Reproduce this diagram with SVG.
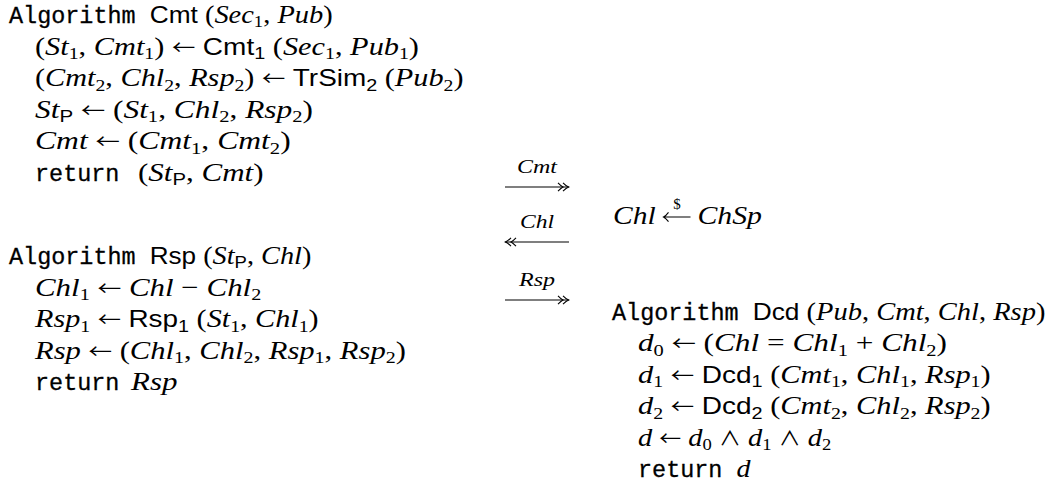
<svg xmlns="http://www.w3.org/2000/svg" width="1052" height="486" viewBox="0 0 1052 486">
  <style>
    .m { font-family: "Liberation Serif", "DejaVu Serif", serif; font-size: 26px; fill: #000; }
    .i { font-style: italic; }
    .sf { font-family: "Liberation Sans", "DejaVu Sans", sans-serif; font-size: 24px; font-style: normal; }
    .sub { font-size: 17px; }
    .ar { font-family: "Noto Sans CJK JP", "DejaVu Sans", sans-serif; font-size: 20px; font-style: normal; }
    .tt { font-family: "Liberation Mono", "DejaVu Sans Mono", monospace; font-size: 24px; fill: #000; stroke: #000; stroke-width: 0.3px; }
    .lbl { font-family: "Liberation Serif", "DejaVu Serif", serif; font-size: 19px; font-style: italic; fill: #000; }
    .dollar { font-family: "Liberation Serif", "DejaVu Serif", serif; font-size: 15px; fill: #000; }
    .wire { stroke: #000; stroke-width: 1.1; fill: none; }
  </style>
  <defs>
    <!-- two-headed arrow tip (twoheadrightarrow) -->
    <marker id="twohead" markerWidth="14" markerHeight="12" refX="12" refY="6" orient="auto" markerUnits="userSpaceOnUse">
      <path d="M1,1.8 Q4.2,5.1 6,6 Q4.2,6.9 1,10.2 M6,1.8 Q9.2,5.1 11.6,6 Q9.2,6.9 6,10.2" fill="none" stroke="#000" stroke-width="1.1"/>
    </marker>
  </defs>

  <!-- prover: commitment algorithm -->
  <g id="alg-cmt">
    <text class="tt" x="9" y="23" textLength="126.6" lengthAdjust="spacingAndGlyphs">Algorithm</text>
    <text class="m" x="149.7" y="23" textLength="183" lengthAdjust="spacingAndGlyphs"><tspan class="sf">Cmt</tspan> (<tspan class="i">Sec</tspan><tspan class="sub" dy="4.3">1</tspan><tspan dy="-4.3">, </tspan><tspan class="i">Pub</tspan>)</text>
    <text class="m" x="35" y="54.6" textLength="384" lengthAdjust="spacingAndGlyphs">(<tspan class="i">St</tspan><tspan class="sub" dy="4.3">1</tspan><tspan dy="-4.3">, </tspan><tspan class="i">Cmt</tspan><tspan class="sub" dy="4.3">1</tspan><tspan dy="-4.3">) </tspan><tspan class="ar">←</tspan> <tspan class="sf">Cmt</tspan><tspan class="sf sub" dy="4.3">1</tspan><tspan dy="-4.3"> (</tspan><tspan class="i">Sec</tspan><tspan class="sub" dy="4.3">1</tspan><tspan dy="-4.3">, </tspan><tspan class="i">Pub</tspan><tspan class="sub" dy="4.3">1</tspan><tspan dy="-4.3">)</tspan></text>
    <text class="m" x="35" y="86.2" textLength="428.5" lengthAdjust="spacingAndGlyphs">(<tspan class="i">Cmt</tspan><tspan class="sub" dy="4.3">2</tspan><tspan dy="-4.3">, </tspan><tspan class="i">Chl</tspan><tspan class="sub" dy="4.3">2</tspan><tspan dy="-4.3">, </tspan><tspan class="i">Rsp</tspan><tspan class="sub" dy="4.3">2</tspan><tspan dy="-4.3">) </tspan><tspan class="ar">←</tspan> <tspan class="sf">TrSim</tspan><tspan class="sf sub" dy="4.3">2</tspan><tspan dy="-4.3"> (</tspan><tspan class="i">Pub</tspan><tspan class="sub" dy="4.3">2</tspan><tspan dy="-4.3">)</tspan></text>
    <text class="m" x="35" y="117.8" textLength="278" lengthAdjust="spacingAndGlyphs"><tspan class="i">St</tspan><tspan class="sf sub" dy="4.3">P</tspan><tspan dy="-4.3"> </tspan><tspan class="ar">←</tspan> (<tspan class="i">St</tspan><tspan class="sub" dy="4.3">1</tspan><tspan dy="-4.3">, </tspan><tspan class="i">Chl</tspan><tspan class="sub" dy="4.3">2</tspan><tspan dy="-4.3">, </tspan><tspan class="i">Rsp</tspan><tspan class="sub" dy="4.3">2</tspan><tspan dy="-4.3">)</tspan></text>
    <text class="m" x="35" y="149.4" textLength="255.7" lengthAdjust="spacingAndGlyphs"><tspan class="i">Cmt</tspan> <tspan class="ar">←</tspan> (<tspan class="i">Cmt</tspan><tspan class="sub" dy="4.3">1</tspan><tspan dy="-4.3">, </tspan><tspan class="i">Cmt</tspan><tspan class="sub" dy="4.3">2</tspan><tspan dy="-4.3">)</tspan></text>
    <text class="tt" x="35" y="181" textLength="84.4" lengthAdjust="spacingAndGlyphs">return</text>
    <text class="m" x="138" y="181" textLength="125.5" lengthAdjust="spacingAndGlyphs">(<tspan class="i">St</tspan><tspan class="sf sub" dy="4.3">P</tspan><tspan dy="-4.3">, </tspan><tspan class="i">Cmt</tspan>)</text>
  </g>

  <!-- prover: response algorithm -->
  <g id="alg-rsp">
    <text class="tt" x="9" y="264" textLength="126.6" lengthAdjust="spacingAndGlyphs">Algorithm</text>
    <text class="m" x="149.7" y="264" textLength="161.6" lengthAdjust="spacingAndGlyphs"><tspan class="sf">Rsp</tspan> (<tspan class="i">St</tspan><tspan class="sf sub" dy="4.3">P</tspan><tspan dy="-4.3">, </tspan><tspan class="i">Chl</tspan>)</text>
    <text class="m" x="35" y="295.6" textLength="226.3" lengthAdjust="spacingAndGlyphs"><tspan class="i">Chl</tspan><tspan class="sub" dy="4.3">1</tspan><tspan dy="-4.3"> </tspan><tspan class="ar">←</tspan> <tspan class="i">Chl</tspan> − <tspan class="i">Chl</tspan><tspan class="sub" dy="4.3">2</tspan></text>
    <text class="m" x="35" y="327.2" textLength="283.7" lengthAdjust="spacingAndGlyphs"><tspan class="i">Rsp</tspan><tspan class="sub" dy="4.3">1</tspan><tspan dy="-4.3"> </tspan><tspan class="ar">←</tspan> <tspan class="sf">Rsp</tspan><tspan class="sf sub" dy="4.3">1</tspan><tspan dy="-4.3"> (</tspan><tspan class="i">St</tspan><tspan class="sub" dy="4.3">1</tspan><tspan dy="-4.3">, </tspan><tspan class="i">Chl</tspan><tspan class="sub" dy="4.3">1</tspan><tspan dy="-4.3">)</tspan></text>
    <text class="m" x="35" y="358.8" textLength="370.9" lengthAdjust="spacingAndGlyphs"><tspan class="i">Rsp</tspan> <tspan class="ar">←</tspan> (<tspan class="i">Chl</tspan><tspan class="sub" dy="4.3">1</tspan><tspan dy="-4.3">, </tspan><tspan class="i">Chl</tspan><tspan class="sub" dy="4.3">2</tspan><tspan dy="-4.3">, </tspan><tspan class="i">Rsp</tspan><tspan class="sub" dy="4.3">1</tspan><tspan dy="-4.3">, </tspan><tspan class="i">Rsp</tspan><tspan class="sub" dy="4.3">2</tspan><tspan dy="-4.3">)</tspan></text>
    <text class="tt" x="35" y="390.4" textLength="84.4" lengthAdjust="spacingAndGlyphs">return</text>
    <text class="m i" x="131" y="390.4" textLength="46.4" lengthAdjust="spacingAndGlyphs">Rsp</text>
  </g>

  <!-- verifier: random challenge drawn from the challenge space -->
  <g id="chl-sample">
    <text class="m i" x="613" y="224" textLength="42.6" lengthAdjust="spacingAndGlyphs">Chl</text>
    <path d="M690.5,217 H663.5 M668.5,212.3 Q666,215.7 663.5,217 Q666,218.3 668.5,221.7" fill="none" stroke="#000" stroke-width="1.1"/>
    <text class="dollar" x="677" y="209" text-anchor="middle">$</text>
    <text class="m i" x="697.5" y="224" textLength="64.5" lengthAdjust="spacingAndGlyphs">ChSp</text>
  </g>

  <!-- verifier: decision algorithm -->
  <g id="alg-dcd">
    <text class="tt" x="612" y="320" textLength="126.6" lengthAdjust="spacingAndGlyphs">Algorithm</text>
    <text class="m" x="752.7" y="320" textLength="292.7" lengthAdjust="spacingAndGlyphs"><tspan class="sf">Dcd</tspan> (<tspan class="i">Pub</tspan>, <tspan class="i">Cmt</tspan>, <tspan class="i">Chl</tspan>, <tspan class="i">Rsp</tspan>)</text>
    <text class="m" x="638" y="351.4" textLength="309" lengthAdjust="spacingAndGlyphs"><tspan class="i">d</tspan><tspan class="sub" dy="4.3">0</tspan><tspan dy="-4.3"> </tspan><tspan class="ar">←</tspan> (<tspan class="i">Chl</tspan> = <tspan class="i">Chl</tspan><tspan class="sub" dy="4.3">1</tspan><tspan dy="-4.3"> + </tspan><tspan class="i">Chl</tspan><tspan class="sub" dy="4.3">2</tspan><tspan dy="-4.3">)</tspan></text>
    <text class="m" x="638" y="382.8" textLength="352.7" lengthAdjust="spacingAndGlyphs"><tspan class="i">d</tspan><tspan class="sub" dy="4.3">1</tspan><tspan dy="-4.3"> </tspan><tspan class="ar">←</tspan> <tspan class="sf">Dcd</tspan><tspan class="sf sub" dy="4.3">1</tspan><tspan dy="-4.3"> (</tspan><tspan class="i">Cmt</tspan><tspan class="sub" dy="4.3">1</tspan><tspan dy="-4.3">, </tspan><tspan class="i">Chl</tspan><tspan class="sub" dy="4.3">1</tspan><tspan dy="-4.3">, </tspan><tspan class="i">Rsp</tspan><tspan class="sub" dy="4.3">1</tspan><tspan dy="-4.3">)</tspan></text>
    <text class="m" x="638" y="414.2" textLength="352.7" lengthAdjust="spacingAndGlyphs"><tspan class="i">d</tspan><tspan class="sub" dy="4.3">2</tspan><tspan dy="-4.3"> </tspan><tspan class="ar">←</tspan> <tspan class="sf">Dcd</tspan><tspan class="sf sub" dy="4.3">2</tspan><tspan dy="-4.3"> (</tspan><tspan class="i">Cmt</tspan><tspan class="sub" dy="4.3">2</tspan><tspan dy="-4.3">, </tspan><tspan class="i">Chl</tspan><tspan class="sub" dy="4.3">2</tspan><tspan dy="-4.3">, </tspan><tspan class="i">Rsp</tspan><tspan class="sub" dy="4.3">2</tspan><tspan dy="-4.3">)</tspan></text>
    <text class="m" x="638" y="445.6" textLength="193.2" lengthAdjust="spacingAndGlyphs"><tspan class="i">d</tspan> <tspan class="ar">←</tspan> <tspan class="i">d</tspan><tspan class="sub" dy="4.3">0</tspan><tspan dy="-4.3"> </tspan><tspan class="ar">∧</tspan> <tspan class="i">d</tspan><tspan class="sub" dy="4.3">1</tspan><tspan dy="-4.3"> </tspan><tspan class="ar">∧</tspan> <tspan class="i">d</tspan><tspan class="sub" dy="4.3">2</tspan></text>
    <text class="tt" x="638" y="477" textLength="84.4" lengthAdjust="spacingAndGlyphs">return</text>
    <text class="m i" x="736.5" y="477" textLength="14" lengthAdjust="spacingAndGlyphs">d</text>
  </g>

  <!-- messages exchanged between prover and verifier -->
  <g id="connectors">
    <text class="lbl" x="537" y="173" text-anchor="middle" textLength="40" lengthAdjust="spacingAndGlyphs">Cmt</text>
    <line class="wire" x1="505" y1="187" x2="569" y2="187" marker-end="url(#twohead)"/>
    <text class="lbl" x="537" y="228" text-anchor="middle" textLength="34" lengthAdjust="spacingAndGlyphs">Chl</text>
    <line class="wire" x1="569" y1="242" x2="505" y2="242" marker-end="url(#twohead)"/>
    <text class="lbl" x="537" y="286" text-anchor="middle" textLength="36" lengthAdjust="spacingAndGlyphs">Rsp</text>
    <line class="wire" x1="505" y1="300" x2="569" y2="300" marker-end="url(#twohead)"/>
  </g>
</svg>
